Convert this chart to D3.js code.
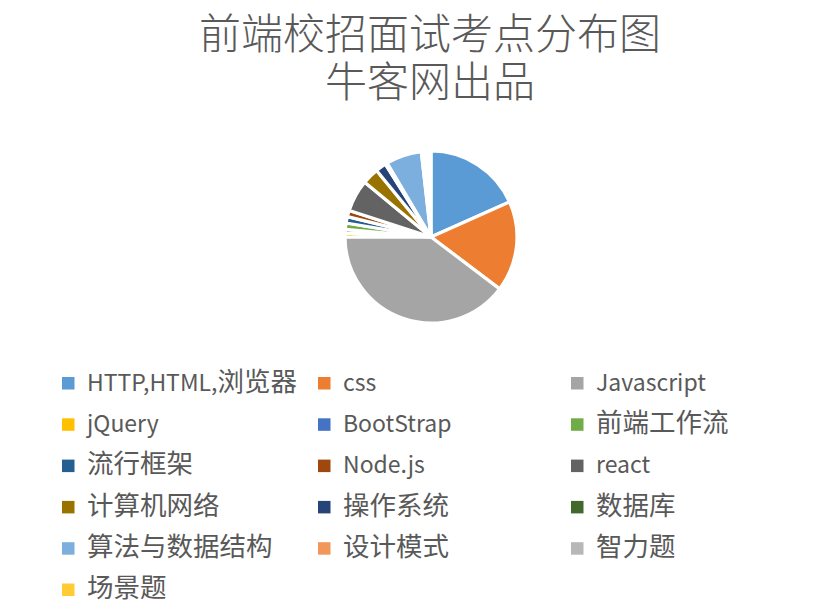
<!DOCTYPE html>
<html><head><meta charset="utf-8">
<script src="https://cdn.jsdelivr.net/npm/d3@7"></script>
<style>body{margin:0;background:#fff}</style>
</head><body>
<svg id="c" width="825" height="609"></svg>
<script>
const titleLines = ["前端校招面试考点分布图", "牛客网出品"];
const categories = ["HTTP,HTML,浏览器","css","Javascript","jQuery","BootStrap","前端工作流","流行框架","Node.js","react","计算机网络","操作系统","数据库","算法与数据结构","设计模式","智力题","场景题"];
const values = [18.3,17.0,39.7,0.7,0.7,1.2,1.2,1.2,6.0,3.1,2.0,0.4,6.7,0.6,0.6,0.6];
const colors = ["#5B9BD5","#ED7D31","#A5A5A5","#FFC000","#4472C4","#70AD47","#255E91","#9E480E","#636363","#997300","#264478","#43682B","#7CAFDD","#F1975A","#B7B7B7","#FFCD33"];

const svg = d3.select("#c");
const font = "'Noto Sans CJK SC','Noto Sans',sans-serif";

const title = svg.append("text")
  .attr("text-anchor","middle")
  .attr("font-family", font).attr("font-weight", 300)
  .attr("font-size", 42).attr("fill","#595959");
title.selectAll("tspan").data(titleLines).join("tspan")
  .attr("x", 430).attr("y", (d,i)=>49 + i*48)
  .text(d=>d);

const data = categories.map((c,i)=>({name:c, value:values[i], color:colors[i]}));
const pie = d3.pie().sort(null).value(d=>d.value);
const arc = d3.arc().innerRadius(0).outerRadius(86);
const g = svg.append("g").attr("transform","translate(431,237)");
g.selectAll("path").data(pie(data)).join("path")
  .attr("d", arc)
  .attr("fill", d=>d.data.color)
  .attr("stroke","#fff").attr("stroke-width",3.2).attr("stroke-linejoin","round");

const colX = [62, 318, 571];
const rowY0 = 383, rowH = 41.3;
const leg = svg.append("g");
const items = leg.selectAll("g").data(data).join("g")
  .attr("transform",(d,i)=>`translate(${colX[i%3]},${rowY0 + Math.floor(i/3)*rowH})`);
items.append("rect").attr("x",0).attr("y",-6).attr("width",12.5).attr("height",12.5).attr("fill",d=>d.color);
function runs(s){
  const out=[]; const re=/[\u3400-\u9fff]+|[^\u3400-\u9fff]+/g; let m;
  while((m=re.exec(s))) out.push({t:m[0], cjk:/[\u3400-\u9fff]/.test(m[0])});
  return out;
}
const lt = items.append("text").attr("x",25).attr("y",2).attr("dy","0.36em")
  .attr("font-family", font).attr("fill","#595959");
lt.selectAll("tspan").data(d=>runs(d.name)).join("tspan")
  .attr("font-size", r=>r.cjk?26.5:23)
  .text(r=>r.t);
</script>
</body></html>
